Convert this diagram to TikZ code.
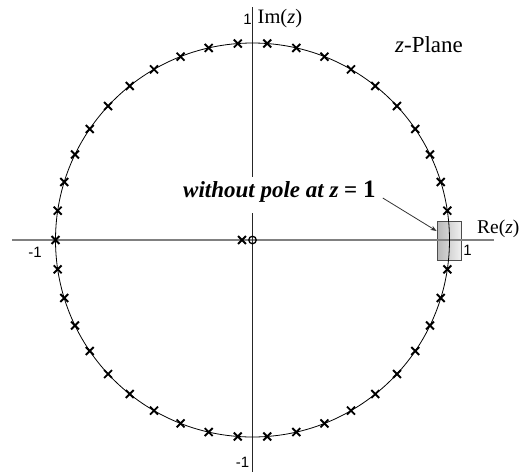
\documentclass[tikz,border=0pt]{standalone}
\usepackage{fontspec}
\setmainfont{Liberation Serif}
\newfontfamily\ticksans{Liberation Sans}
\usetikzlibrary{shapes.misc,arrows.meta}
\begin{document}
\begin{tikzpicture}[x=1pt,y=-1pt,
  polemark/.style={cross out,draw=black,minimum size=6pt,inner sep=0pt,line width=1.9pt},
  zeromark/.style={circle,draw=black,minimum size=7.5pt,inner sep=0pt,line width=1.3pt},
  ticklbl/.style={font=\ticksans\fontsize{15}{15}\selectfont,inner sep=0pt},
  axlbl/.style={font=\fontsize{20.5}{21}\selectfont,inner sep=0pt,anchor=base west},
  haxis/.style={draw=black!50,line width=1.3pt},
  vaxis/.style={draw=black!85,line width=0.9pt},
  unitcircle/.style={draw=black,line width=0.8pt},
  callout/.style={draw=black!80,line width=0.8pt,-{Stealth[length=6pt,width=4.5pt]}},
  gapbox/.style={draw=black!70,line width=0.8pt,left color=black!28,right color=black!6,minimum width=24pt,minimum height=39pt,inner sep=0pt}
]
\useasboundingbox (0,0) rectangle (519,472);
% shaded box at z=1
\node[gapbox] (box) at (449,240.5) {};
% axes
\coordinate (xl) at (12,240);
\coordinate (xr) at (494,240);
\coordinate (yt) at (252.5,7);
\coordinate (ym1) at (252.5,177);
\coordinate (ym2) at (252.5,213);
\coordinate (yb) at (252.5,472);
\draw[haxis] (xl) -- (xr);
\draw[vaxis] (yt) -- (ym1);
\draw[vaxis] (ym2) -- (yb);
% unit circle
\draw[unitcircle] (252.5,240) circle[radius=197];
% poles on the circle
\foreach \k in {1,...,41}
  \node[polemark] (p\k) at ({252.5+197*cos(\k*360/42)},{240-197*sin(\k*360/42)}) {};
% pole and zero near origin
\node[polemark] (p0) at (242,240) {};
\node[zeromark] (z0) at (252.5,240) {};
% tick labels
\node[ticklbl] (t1) at (247.5,19) {1};
\node[ticklbl] (tm1l) at (35,252) {-1};
\node[ticklbl] (t1r) at (467.5,250) {1};
\node[ticklbl] (tm1b) at (242.5,462) {-1};
% axis labels
\node[axlbl] (im) at (257.5,23) {Im(\textit{z})};
\node[axlbl,font=\fontsize{19.5}{20}\selectfont] (re) at (477,233) {Re(\textit{z})};
\node[axlbl,font=\fontsize{23}{23}\selectfont] (pl) at (395,52) {\textit{z}-Plane};
% annotation
\node[anchor=base west,inner sep=0pt,font=\fontsize{23}{24}\selectfont\bfseries] (lbl) at (183,197) {\textit{without pole at z} = {\fontsize{25}{25}\selectfont 1}};
\draw[callout] ([xshift=7pt,yshift=-1pt]lbl.base east) -- ([yshift=9.5pt]box.west);
\end{tikzpicture}
\end{document}
